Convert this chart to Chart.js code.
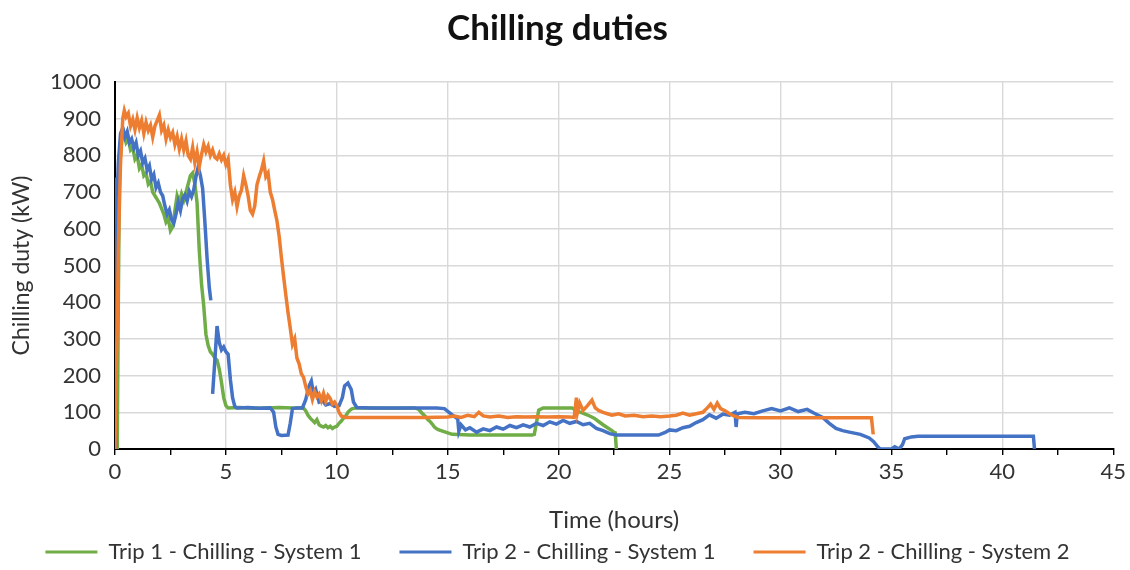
<!DOCTYPE html>
<html>
<head>
<meta charset="utf-8">
<script src="https://cdn.jsdelivr.net/npm/chart.js@4.4.1/dist/chart.umd.min.js"></script>
<style>
html,body{margin:0;padding:0;background:#ffffff;}
#wrap{width:1130px;height:570px;position:relative;}
</style>
</head>
<body>
<div id="wrap"><canvas id="chart"></canvas></div>
<script>
// ---- Data (hours, kW) ----
const chartTitle = 'Chilling duties';
const xAxisTitle = 'Time (hours)';
const yAxisTitle = 'Chilling duty (kW)';
const seriesNames = ['Trip 1 - Chilling - System 1', 'Trip 2 - Chilling - System 1', 'Trip 2 - Chilling - System 2'];
const xTickLabels = [0, 5, 10, 15, 20, 25, 30, 35, 40, 45];
const yTickLabels = [0, 100, 200, 300, 400, 500, 600, 700, 800, 900, 1000];

const trip1System1 = [
  [0.1,0],[0.15,400],[0.2,760],[0.3,840],[0.4,860],[0.5,835],[0.6,845],[0.7,815],[0.8,822],[0.9,790],
  [1.0,800],[1.1,765],[1.2,775],[1.3,745],[1.4,752],[1.5,722],[1.6,730],[1.7,700],[1.8,690],[1.9,680],
  [2.0,670],[2.1,655],[2.2,640],[2.3,618],[2.4,628],[2.5,595],[2.6,605],[2.7,650],[2.8,690],[2.9,672],
  [3.0,695],[3.1,678],[3.2,700],[3.3,722],[3.4,745],[3.5,752],[3.6,722],[3.7,670],[3.8,540],[3.9,450],
  [4.0,390],[4.1,312],[4.2,282],[4.3,265],[4.4,258],[4.5,248],[4.6,242],[4.7,218],[4.8,182],[4.9,140],
  [5.0,118],[5.1,112],[5.6,113],[6.2,111],[6.8,112],[7.4,113],[8.0,112],[8.5,112],[8.6,104],[8.7,92],
  [8.8,84],[8.9,78],[9.0,72],[9.1,80],[9.2,66],[9.3,62],[9.4,60],[9.5,64],[9.6,58],[9.7,62],
  [9.8,56],[9.9,60],[10.0,62],[10.1,70],[10.2,76],[10.3,84],[10.4,90],[10.5,100],[10.6,106],[10.7,110],
  [10.9,112],[11.5,112],[12.5,111],[13.5,112],[13.7,108],[13.8,100],[13.9,94],[14.0,88],[14.1,80],[14.2,75],
  [14.3,68],[14.4,60],[14.5,55],[14.6,52],[14.8,48],[15.0,44],[15.2,40],[16.0,38],[17.0,38],[18.0,38],
  [18.8,38],[18.9,40],[19.0,72],[19.1,106],[19.3,112],[20.0,112],[20.6,112],[20.8,104],[21.0,100],[21.2,95],
  [21.4,90],[21.6,84],[21.8,75],[22.0,66],[22.2,58],[22.4,50],[22.5,45],[22.55,44],[22.6,0]
];

const trip2System1 = [
  [0,0],[0.03,500],[0.06,740],[0.1,690],[0.15,780],[0.25,860],[0.35,875],[0.45,850],[0.55,865],[0.65,835],
  [0.75,845],[0.85,820],[0.95,835],[1.05,800],[1.15,812],[1.25,780],[1.35,792],[1.45,760],[1.55,772],[1.65,735],
  [1.75,748],[1.85,712],[1.95,725],[2.05,700],[2.15,690],[2.25,662],[2.35,640],[2.45,652],[2.55,625],[2.65,615],
  [2.75,640],[2.85,672],[2.95,650],[3.05,682],[3.15,692],[3.25,675],[3.35,702],[3.45,688],[3.55,706],[3.65,742],
  [3.75,768],[3.85,745],[3.95,710],[4.05,620],[4.15,520],[4.25,440],[4.32,405],[4.36,null],[4.4,150],[4.5,240],
  [4.6,335],[4.7,290],[4.8,270],[4.9,278],[5.0,265],[5.1,258],[5.2,190],[5.3,140],[5.4,116],[5.5,112],
  [6.0,113],[6.5,111],[7.0,112],[7.15,100],[7.25,60],[7.35,40],[7.5,37],[7.8,38],[7.9,70],[8.0,110],
  [8.2,112],[8.45,112],[8.6,135],[8.75,172],[8.85,185],[8.95,150],[9.05,162],[9.2,128],[9.35,132],[9.5,120],
  [9.7,124],[9.9,116],[10.1,118],[10.25,140],[10.35,172],[10.5,180],[10.65,162],[10.75,128],[10.9,113],[11.5,112],
  [12.5,112],[13.5,112],[14.5,112],[14.85,110],[15.1,98],[15.3,88],[15.45,82],[15.5,48],[15.6,66],[15.8,52],
  [16.0,58],[16.3,46],[16.6,55],[16.9,50],[17.2,60],[17.5,54],[17.8,64],[18.1,58],[18.4,66],[18.7,60],
  [19.0,70],[19.3,64],[19.6,74],[19.9,68],[20.2,78],[20.5,70],[20.8,75],[21.1,66],[21.4,70],[21.7,56],
  [22.0,50],[22.3,42],[22.6,38],[23.5,38],[24.5,38],[24.8,45],[25.0,52],[25.3,50],[25.6,58],[25.9,62],
  [26.2,72],[26.5,80],[26.8,93],[27.1,84],[27.4,95],[27.7,92],[27.95,100],[28.0,60],[28.05,96],[28.4,100],
  [28.8,96],[29.2,104],[29.6,110],[30.0,104],[30.4,112],[30.8,102],[31.2,108],[31.5,98],[31.9,86],[32.2,70],
  [32.5,56],[32.8,50],[33.1,46],[33.6,40],[34.0,30],[34.2,20],[34.4,5],[34.5,0],[35.0,0],[35.15,6],
  [35.35,0],[35.5,12],[35.6,28],[35.9,33],[36.2,35],[41.4,35],[41.45,0]
];

const trip2System2 = [
  [0,0],[0.05,200],[0.1,330],[0.15,550],[0.25,780],[0.35,900],[0.42,922],[0.5,905],[0.6,915],[0.7,880],
  [0.8,898],[0.9,870],[1.0,902],[1.1,875],[1.2,895],[1.3,860],[1.4,890],[1.5,868],[1.6,882],[1.7,850],
  [1.8,880],[1.9,895],[2.0,910],[2.1,868],[2.2,882],[2.3,845],[2.4,870],[2.5,848],[2.6,862],[2.7,830],
  [2.8,852],[2.9,818],[3.0,845],[3.1,815],[3.2,840],[3.3,800],[3.4,790],[3.5,822],[3.6,780],[3.7,810],
  [3.8,770],[3.9,802],[4.0,830],[4.1,810],[4.2,825],[4.3,800],[4.4,815],[4.5,795],[4.6,790],[4.7,805],
  [4.8,788],[4.9,800],[5.0,775],[5.1,790],[5.2,720],[5.3,680],[5.4,700],[5.5,660],[5.6,690],[5.7,705],
  [5.8,745],[5.9,720],[6.0,690],[6.1,650],[6.2,640],[6.3,662],[6.4,720],[6.5,742],[6.6,760],[6.7,785],
  [6.8,742],[6.9,752],[7.0,700],[7.1,680],[7.2,650],[7.3,622],[7.4,580],[7.5,522],[7.6,470],[7.7,420],
  [7.8,372],[7.9,330],[8.0,285],[8.1,300],[8.2,248],[8.3,232],[8.4,205],[8.5,195],[8.6,170],[8.7,150],
  [8.8,160],[8.9,135],[9.0,156],[9.1,142],[9.2,150],[9.3,132],[9.4,152],[9.5,130],[9.6,146],[9.7,138],
  [9.8,122],[9.9,128],[10.0,118],[10.1,100],[10.2,90],[10.4,86],[11.0,86],[12.0,86],[13.0,86],[14.0,86],
  [15.0,87],[15.3,90],[15.6,86],[15.9,92],[16.2,88],[16.4,100],[16.6,90],[16.9,87],[17.3,90],[17.7,86],
  [18.1,88],[18.5,87],[19.0,88],[19.5,87],[20.0,88],[20.5,87],[20.7,86],[20.8,140],[20.85,100],[20.95,125],
  [21.1,105],[21.3,118],[21.5,133],[21.65,112],[21.8,105],[22.0,100],[22.2,96],[22.4,92],[22.7,96],[23.0,90],
  [23.4,92],[23.8,88],[24.2,90],[24.6,88],[25.0,90],[25.3,92],[25.6,98],[25.9,92],[26.2,96],[26.5,100],
  [26.7,112],[26.85,122],[27.0,108],[27.15,125],[27.3,110],[27.5,104],[27.7,96],[27.9,90],[28.1,86],[29.0,85],
  [30.0,85],[31.0,85],[32.0,85],[33.0,85],[34.1,85],[34.18,40]
];

const seriesColors = ['#70AD47', '#4472C4', '#ED7D31'];

// ---- Chart ----
const FONT = 'Lato, "Liberation Sans", sans-serif';
const toPoints = arr => arr.map(p => ({x: p[0], y: p[1]}));
const allSeries = [trip1System1, trip2System1, trip2System2];
const drawOrder = [2, 1, 0]; // orange on top, then blue, then green

const LEGEND_PAD = 38;
const LEGEND_BOX_H = 33;
const LEGEND_SHIFT = 34;
const legendPlacement = {
  id: 'legendPlacement',
  beforeLayout(chart) {
    const lg = chart.legend;
    if (lg && !lg.__wrapped) {
      const origFit = lg.fit;
      lg.fit = function () {
        const mw = this.maxWidth;
        this.maxWidth = 4000;
        origFit.call(this);
        this.maxWidth = mw;
        this.width = mw;
        this.height = LEGEND_BOX_H;
      };
      lg.__wrapped = true;
    }
  },
  afterLayout(chart) {
    const lg = chart.legend;
    if (lg) { lg.top -= LEGEND_SHIFT; lg.height += LEGEND_SHIFT; }
  }
};

new Chart(document.getElementById('chart'), {
  type: 'line',
  data: {
    datasets: allSeries.map((s, i) => ({
      label: seriesNames[i],
      data: toPoints(s),
      borderColor: seriesColors[i],
      backgroundColor: seriesColors[i],
      borderWidth: 3.5,
      pointRadius: 0,
      pointHoverRadius: 0,
      tension: 0,
      fill: false,
      spanGaps: false,
      order: drawOrder[i]
    }))
  },
  options: {
    responsive: true,
    maintainAspectRatio: false,
    animation: false,
    layout: { padding: { left: 0, right: 15, top: 0, bottom: 0 } },
    plugins: {
      title: {
        display: true,
        text: chartTitle,
        color: '#111111',
        font: { family: FONT, size: 35, weight: 'bold' },
        padding: { top: 8, bottom: 32 }
      },
      legend: {
        position: 'bottom',
        labels: {
          color: '#333333',
          font: { family: FONT, size: 22 },
          boxWidth: 52,
          boxHeight: 3,
          padding: LEGEND_PAD,
          sort: (a, b) => a.datasetIndex - b.datasetIndex,
          generateLabels(chart) {
            const items = Chart.defaults.plugins.legend.labels.generateLabels(chart);
            return items.map(it => Object.assign(it, { lineWidth: 0, fillStyle: it.strokeStyle }));
          }
        }
      },
      tooltip: { enabled: false }
    },
    scales: {
      x: {
        type: 'linear',
        min: 0,
        max: 45,
        afterFit(scale) { scale.height = 88; },
        border: { color: '#000000', width: 2 },
        grid: {
          color: ctx => (ctx.tick && ctx.tick.value % 5 === 0 && ctx.tick.value > 0 && ctx.tick.value < 45) ? '#d9d9d9' : 'rgba(0,0,0,0)',
          lineWidth: 1.4,
          tickColor: '#000000',
          tickLength: 6,
          drawTicks: true
        },
        ticks: {
          stepSize: 2.5,
          autoSkip: false,
          maxRotation: 0,
          padding: 4,
          color: '#333333',
          font: { family: FONT, size: 22 },
          callback: v => xTickLabels.includes(v) ? String(v) : ''
        },
        title: {
          display: true,
          text: xAxisTitle,
          color: '#333333',
          font: { family: FONT, size: 24 },
          padding: { top: 0, bottom: 2 }
        }
      },
      y: {
        min: 0,
        max: 1000,
        afterFit(scale) { scale.width = 115; },
        border: { color: '#000000', width: 2 },
        grid: { color: '#d9d9d9', lineWidth: 1.4, drawTicks: false },
        ticks: {
          stepSize: 100,
          padding: 14,
          color: '#333333',
          font: { family: FONT, size: 22 },
          callback: v => yTickLabels.includes(v) ? String(v) : ''
        },
        title: {
          display: true,
          text: yAxisTitle,
          color: '#333333',
          font: { family: FONT, size: 23 },
          padding: { top: 8, bottom: 0 }
        }
      }
    }
  },
  plugins: [legendPlacement]
});
</script>
</body>
</html>
